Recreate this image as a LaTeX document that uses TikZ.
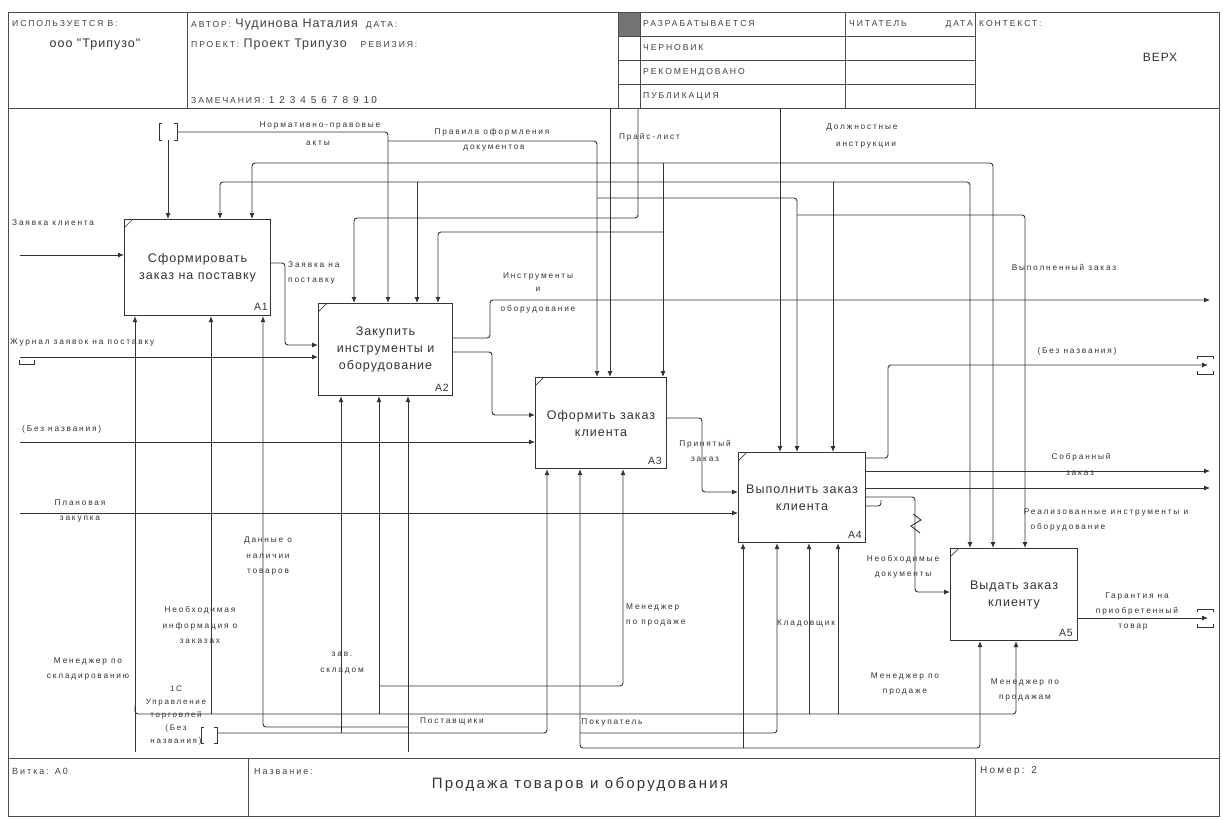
\documentclass[tikz,border=0pt]{standalone}
\usepackage{fontspec}
\setmainfont{Liberation Sans}
\newfontfamily\lblf[LetterSpace=22]{Liberation Sans}
\newfontfamily\hdrf[LetterSpace=22]{Liberation Sans}
\newfontfamily\ttlf[LetterSpace=8]{Liberation Sans}
\newfontfamily\bigf[LetterSpace=15]{Liberation Sans}
\usetikzlibrary{arrows.meta}
\begin{document}
\begin{tikzpicture}[x=1pt,y=-1pt,
 frame/.style={draw=black!70,line width=1pt},
 line/.style={draw=black!80,line width=0.9pt,rounded corners=3pt},
 arr/.style={line,-{Latex[length=6pt,width=5pt]}},
 biarr/.style={line,{Latex[length=6pt,width=5pt]}-{Latex[length=6pt,width=5pt]}},
 tun/.style={draw=black!80,line width=0.9pt},
 box/.style={draw=black!80,line width=1.1pt,anchor=north west,inner sep=0pt,align=center,font={\ttlf\fontsize{12.5}{17}\selectfont},text=black!80},
 lbl/.style={inner sep=0pt,align=center,font={\lblf\fontsize{8.3}{15.5}\selectfont},text=black!80},
 hdr/.style={inner sep=0pt,anchor=west,font={\hdrf\fontsize{8.6}{10}\selectfont},text=black!75},
 num/.style={inner sep=0pt,anchor=south east,font={\ttlf\fontsize{10.5}{12}\selectfont},text=black!80},
]
\useasboundingbox (0,0) rectangle (1223,819);
\fill[white] (0,0) rectangle (1223,819);

% ---------- frame ----------
\draw[frame] (8,12) rectangle (1219,816);
\draw[frame] (8,108) -- (1219,108);
\draw[frame] (8,758) -- (1219,758);
\draw[frame] (187,12) -- (187,108);
\draw[frame] (618,12) -- (618,108);
\draw[frame] (640,12) -- (640,108);
\draw[frame] (845,12) -- (845,108);
\draw[frame] (975,12) -- (975,108);
\foreach \yy in {36,60,84} \draw[frame] (618,\yy) -- (975,\yy);
\fill[black!55] (619,13) rectangle (640,36);
\draw[frame] (248,758) -- (248,816);
\draw[frame] (975,758) -- (975,816);

% ---------- header ----------
\node[hdr] (h1) at (12,24) {ИСПОЛЬЗУЕТСЯ В:};
\node[inner sep=0pt,font={\ttlf\fontsize{12.5}{14}\selectfont},text=black!80] (h2) at (95,44) {ооо "Трипузо"};
\node[hdr] (h3) at (191,24) {АВТОР: {\ttlf\fontsize{12.5}{14}\selectfont Чудинова Наталия}\hspace{8pt}ДАТА:};
\node[hdr] (h4) at (191,44) {ПРОЕКТ: {\ttlf\fontsize{12.5}{14}\selectfont Проект Трипузо}\hspace{14pt}РЕВИЗИЯ:};
\node[hdr] (h5) at (191,100) {ЗАМЕЧАНИЯ: {\fontsize{10}{11}\selectfont 1 2 3 4 5 6 7 8 9 10}};
\node[hdr] (s1) at (643,24) {РАЗРАБАТЫВАЕТСЯ};
\node[hdr] (s2) at (643,48) {ЧЕРНОВИК};
\node[hdr] (s3) at (643,72) {РЕКОМЕНДОВАНО};
\node[hdr] (s4) at (643,96) {ПУБЛИКАЦИЯ};
\node[hdr] (s5) at (849,24) {ЧИТАТЕЛЬ};
\node[hdr,anchor=east] (s6) at (973,24) {ДАТА};
\node[hdr] (s7) at (979,24) {КОНТЕКСТ:};
\node[inner sep=0pt,font={\ttlf\fontsize{12}{13}\selectfont},text=black!80] (s8) at (1160,57) {ВЕРХ};

% ---------- footer ----------
\node[hdr,font={\hdrf\fontsize{9}{10}\selectfont}] (f1) at (12,771) {Витка: А0};
\node[hdr,font={\hdrf\fontsize{9}{10}\selectfont}] (f2) at (254,771) {Название:};
\node[inner sep=0pt,font={\bigf\fontsize{15}{17}\selectfont},text=black!80] (f3) at (580,785) {Продажа товаров и оборудования};
\node[hdr,font={\hdrf\fontsize{10}{11}\selectfont}] (f4) at (980,771) {Номер: 2};

% ---------- boxes ----------
\node[box,minimum width=146pt,minimum height=96pt] (A1) at (124,219) {Сформировать\\заказ на поставку};
\node[box,minimum width=134pt,minimum height=92pt] (A2) at (318,303) {Закупить\\инструменты и\\оборудование};
\node[box,minimum width=131pt,minimum height=91pt] (A3) at (535,377) {Оформить заказ\\клиента};
\node[box,minimum width=127pt,minimum height=90pt] (A4) at (738,452) {Выполнить заказ\\клиента};
\node[box,minimum width=127pt,minimum height=92pt] (A5) at (950,548) {Выдать заказ\\клиенту};
\foreach \b in {A1,A2,A3,A4,A5} \draw[black!75,line width=0.7pt] ([yshift=-9pt]\b.north west) -- ([xshift=9pt]\b.north west);
\node[num] (n1) at (268,311) {A1};
\node[num] (n2) at (449,392) {A2};
\node[num] (n3) at (662,465) {A3};
\node[num] (n4) at (862,539) {A4};
\node[num] (n5) at (1073,637) {A5};

% ---------- tunnels ----------
\draw[tun] (162,123) -- (159,123) -- (159,140) -- (162,140);
\draw[tun] (174,123) -- (177,123) -- (177,140) -- (174,140);
\coordinate (t1) at (177,132);
\coordinate (t1b) at (168,140);
\draw[tun] (204,727) -- (201,727) -- (201,743) -- (204,743);
\draw[tun] (214,727) -- (217,727) -- (217,743) -- (214,743);
\coordinate (t2) at (217,733);
\draw[tun] (19,360) -- (19,364) -- (34,364) -- (34,360);
\coordinate (t3) at (20,357);
\foreach \yy in {365,618}{
 \draw[tun] (1197,\yy-6) -- (1197,\yy-9) -- (1213,\yy-9) -- (1213,\yy-6);
 \draw[tun] (1197,\yy+6) -- (1197,\yy+9) -- (1213,\yy+9) -- (1213,\yy+6);
}

% ---------- controls ----------
\draw[arr] (t1) -- (388,132) -- (A2.north -| 388,0);
\draw[arr] (t1b) -- (A1.north -| 168,0);
\draw[arr] (388,141) -- (597,141) -- (A3.north -| 597,0);
\draw[arr] (597,198) -- (797,198) -- (A4.north -| 797,0);
\draw[arr] (797,215) -- (1025,215) -- (A5.north -| 1025,0);
\draw[arr] (610,108) -- (A3.north -| 610,0);
\draw[arr] (610,182) -- (220,182) -- (A1.north -| 220,0);
\draw[arr] (417,182) -- (A2.north -| 417,0);
\draw[arr] (610,182) -- (970,182) -- (A5.north -| 970,0);
\draw[arr] (833,182) -- (A4.north -| 833,0);
\draw[arr] (638,108) -- (638,218) -- (354,218) -- (A2.north -| 354,0);
\draw[arr] (780,108) -- (A4.north -| 780,0);
\draw[arr] (780,163) -- (252,163) -- (A1.north -| 252,0);
\draw[arr] (663,163) -- (A3.north -| 663,0);
\draw[arr] (663,232) -- (438,232) -- (A2.north -| 438,0);
\draw[arr] (780,163) -- (993,163) -- (A5.north -| 993,0);

% ---------- inputs / outputs ----------
\draw[arr] (20,255) -- (A1.west |- 0,255);
\draw[arr] (t3) -- (A2.west |- 0,357);
\draw[arr] (20,442) -- (A3.west |- 0,442);
\draw[arr] (20,513) -- (A4.west |- 0,513);
\draw[arr] (A1.east |- 0,263) -- (285,263) -- (285,345) -- (A2.west |- 0,345);
\draw[arr] (A2.east |- 0,352) -- (492,352) -- (492,415) -- (A3.west |- 0,415);
\draw[arr] (A2.east |- 0,338) -- (490,338) -- (490,300) -- (1210,300);
\draw[arr] (A3.east |- 0,418) -- (702,418) -- (702,492) -- (A4.west |- 0,492);
\draw[arr] (A4.east |- 0,458) -- (888,458) -- (888,365) -- (1208,365);
\draw[arr] (A4.east |- 0,471) -- (1210,471);
\draw[arr] (A4.east |- 0,488) -- (1210,488);
\draw[arr] (A4.east |- 0,497) -- (915,497) -- (915,592) -- (A5.west |- 0,592);
\draw[line] (A4.east |- 0,506) -- (881,506) -- (881,500);
\draw[tun] (913,514) -- (921,520) -- (911,526) -- (920,533);
\draw[arr] (A5.east |- 0,618) -- (1208,618);

% ---------- mechanisms ----------
\draw[arr] (135,752) -- (A1.south -| 135,0);
\draw[arr] (135,706) -- (135,714) -- (1016,714) -- (A5.south -| 1016,0);
\draw[arr] (211,714) -- (A1.south -| 211,0);
\draw[arr] (379,714) -- (A2.south -| 379,0);
\draw[arr] (809,714) -- (A4.south -| 809,0);
\draw[arr] (838,714) -- (A4.south -| 838,0);
\draw[arr] (379,686) -- (623,686) -- (A3.south -| 623,0);
\draw[arr] (408,752) -- (A2.south -| 408,0);
\draw[arr] (408,727) -- (263,727) -- (A1.south -| 263,0);
\draw[arr] (t2) -- (547,733) -- (A3.south -| 547,0);
\draw[arr] (341,733) -- (A2.south -| 341,0);
\draw[biarr] (A3.south -| 580,0) -- (580,748) -- (980,748) -- (A5.south -| 980,0);
\draw[arr] (743,748) -- (A4.south -| 743,0);
\draw[arr] (580,733) -- (777,733) -- (A4.south -| 777,0);

% ---------- labels ----------
\node[lbl] (L1) at (320,126) {Нормативно-правовые};
\node[lbl] (L2) at (318,143) {акты};
\node[lbl] (L3) at (492,132) {Правила оформления};
\node[lbl] (L4) at (494,148) {документов};
\node[lbl,anchor=west] (L5) at (619,137) {Прайс-лист};
\node[lbl] (L6) at (862,127) {Должностные};
\node[lbl] (L7) at (866,145) {инструкции};
\node[lbl,anchor=west] (L8) at (12,223) {Заявка клиента};
\node[lbl,anchor=west,align=left] (L9) at (288,273) {Заявка на\\поставку};
\node[lbl] (L10) at (538,277) {Инструменты};
\node[lbl] (L11) at (538,289) {и};
\node[lbl] (L12) at (538,309) {оборудование};
\node[lbl,anchor=west] (L13) at (10,343) {Журнал заявок на поставку};
\node[lbl,anchor=west] (L14) at (22,429) {(Без названия)};
\node[lbl] (L15) at (80,511) {Плановая\\закупка};
\node[lbl] (L16) at (1064,267) {Выполненный заказ};
\node[lbl] (L17) at (1077,351) {(Без названия)};
\node[lbl] (L18) at (705,451) {Принятый\\заказ};
\node[lbl] (L19) at (1081,457) {Собранный};
\node[lbl] (L20) at (1080,473) {заказ};
\node[lbl] (L21) at (1106,512) {Реализованные инструменты и};
\node[lbl] (L22) at (1068,527) {оборудование};
\node[lbl] (L23) at (903,567) {Необходимые\\документы};
\node[lbl] (L24) at (1137,604) {Гарантия на\\приобретенный};
\node[lbl] (L25) at (1133,627) {товар};
\node[lbl] (L26) at (268,556) {Данные о\\наличии\\товаров};
\node[lbl] (L27) at (200,625) {Необходимая\\информация о\\заказах};
\node[lbl] (L28) at (88,669) {Менеджер по\\складированию};
\node[lbl,font={\lblf\fontsize{8}{13}\selectfont}] (L29) at (176,716) {1С\\Управление\\торговлей\\(Без\\названия)};
\node[lbl] (L30) at (342,663) {зав.\\складом};
\node[lbl,anchor=west,align=left] (L31) at (626,615) {Менеджер\\по продаже};
\node[lbl] (L32) at (806,623) {Кладовщик};
\node[lbl] (L33) at (905,684) {Менеджер по\\продаже};
\node[lbl] (L34) at (1025,690) {Менеджер по\\продажам};
\node[lbl] (L35) at (452,721) {Поставщики};
\node[lbl] (L36) at (612,722) {Покупатель};
\end{tikzpicture}
\end{document}
